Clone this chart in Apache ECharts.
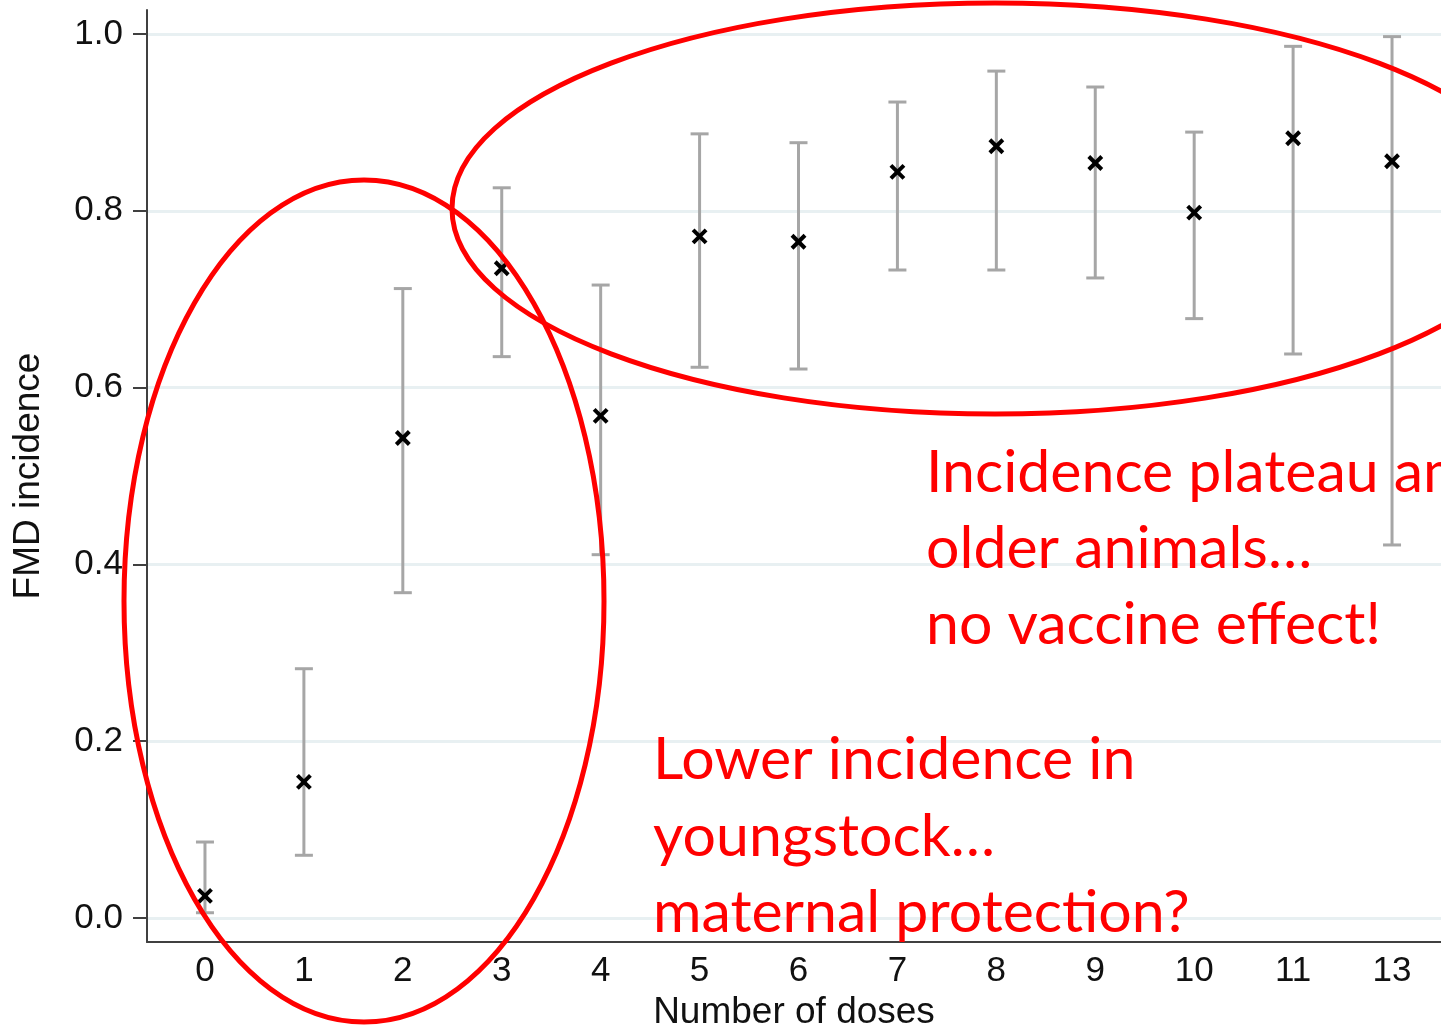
<!DOCTYPE html>
<html>
<head>
<meta charset="utf-8">
<script src="https://cdn.jsdelivr.net/npm/echarts@6/dist/echarts.min.js"></script>
<style>
html,body{margin:0;padding:0;background:#fff;}
#chart{width:1441px;height:1025px;}
</style>
</head>
<body>
<div id="chart"></div>
<script>
const categories = ['0','1','2','3','4','5','6','7','8','9','10','11','13'];
const estimates = [0.025,0.154,0.543,0.735,0.568,0.771,0.765,0.844,0.873,0.854,0.798,0.882,0.856];
const lowerCI  = [0.006,0.071,0.368,0.635,0.411,0.623,0.621,0.733,0.733,0.724,0.678,0.638,0.422];
const upperCI  = [0.086,0.282,0.712,0.826,0.716,0.887,0.877,0.923,0.958,0.940,0.889,0.986,0.997];
const yTicks = [0, 0.2, 0.4, 0.6, 0.8, 1.0];
const xTicks = categories.map((c, i) => i);

const barData = categories.map((c, i) => [i, lowerCI[i], upperCI[i]]);
const pointData = categories.map((c, i) => [i, estimates[i]]);

const chart = echarts.init(document.getElementById('chart'), null, {renderer: 'canvas'});
const axisFont = 'Liberation Sans, Arial, sans-serif';
const redFont = 'Lato, "Open Sans", sans-serif';
const redSize = 59;

const option = {
  backgroundColor: '#ffffff',
  animation: false,
  grid: {left: 147, right: 0, top: 10, bottom: 83, containLabel: false, outerBoundsMode: 'none'},
  xAxis: {
    type: 'value',
    min: -0.586,
    max: 12.495,
    z: 20,
    axisLine: {show: true, onZero: false, lineStyle: {color: '#404040', width: 2}},
    axisTick: {show: false},
    splitLine: {show: false},
    axisLabel: {
      customValues: xTicks,
      formatter: v => categories[Math.round(v)],
      color: '#111', fontFamily: axisFont, fontSize: 35, margin: 12
    },
    name: 'Number of doses',
    nameLocation: 'middle',
    nameGap: 46,
    nameTextStyle: {color: '#111', fontFamily: axisFont, fontSize: 37}
  },
  yAxis: {
    type: 'value',
    min: -0.0271,
    max: 1.0271,
    z: 20,
    axisLine: {show: true, onZero: false, lineStyle: {color: '#404040', width: 2}},
    axisTick: {show: true, customValues: yTicks, length: 14, lineStyle: {color: '#404040', width: 2}},
    splitLine: {show: false},
    axisLabel: {
      customValues: yTicks,
      formatter: v => v.toFixed(1),
      color: '#111', fontFamily: axisFont, fontSize: 35, margin: 24
    },
    name: 'FMD incidence',
    nameLocation: 'middle',
    nameRotate: 90,
    nameGap: 100,
    nameTextStyle: {color: '#111', fontFamily: axisFont, fontSize: 37}
  },
  series: [
    {
      type: 'custom',
      name: 'gridlines',
      data: [],
      silent: true,
      z: 1,
      markLine: {
        silent: true,
        z: 1,
        symbol: ['none', 'none'],
        label: {show: false},
        lineStyle: {color: '#e8f0f2', width: 3, type: 'solid'},
        data: yTicks.map(v => ({yAxis: v}))
      },
      renderItem: () => null
    },
    {
      type: 'custom',
      name: 'CI',
      data: barData,
      z: 10,
      renderItem: function (params, api) {
        const x = api.value(0);
        const p1 = api.coord([x, api.value(1)]);
        const p2 = api.coord([x, api.value(2)]);
        const hw = 9;
        const st = {stroke: '#a6a6a6', lineWidth: 3, fill: null};
        return {
          type: 'group',
          children: [
            {type: 'line', shape: {x1: p1[0], y1: p1[1], x2: p2[0], y2: p2[1]}, style: st},
            {type: 'line', shape: {x1: p1[0] - hw, y1: p1[1], x2: p1[0] + hw, y2: p1[1]}, style: st},
            {type: 'line', shape: {x1: p2[0] - hw, y1: p2[1], x2: p2[0] + hw, y2: p2[1]}, style: st}
          ]
        };
      }
    },
    {
      type: 'custom',
      name: 'estimate',
      data: pointData,
      z: 12,
      renderItem: function (params, api) {
        const p = api.coord([api.value(0), api.value(1)]);
        const s = 6.5;
        const st = {stroke: '#000', lineWidth: 4, fill: null};
        return {
          type: 'group',
          children: [
            {type: 'line', shape: {x1: p[0] - s, y1: p[1] - s, x2: p[0] + s, y2: p[1] + s}, style: st},
            {type: 'line', shape: {x1: p[0] - s, y1: p[1] + s, x2: p[0] + s, y2: p[1] - s}, style: st}
          ]
        };
      }
    }
  ],
  graphic: [
    {type: 'ellipse', z: 100, silent: true, shape: {cx: 364, cy: 601, rx: 240, ry: 421},
      style: {fill: null, stroke: '#ff0000', lineWidth: 5}},
    {type: 'ellipse', z: 100, silent: true, shape: {cx: 995, cy: 208.5, rx: 543, ry: 205.5},
      style: {fill: null, stroke: '#ff0000', lineWidth: 5}},
    {type: 'text', z: 101, left: 926, top: 443, style: {text: 'Incidence plateau among', fill: '#ff0000', font: redSize + 'px ' + redFont}},
    {type: 'text', z: 101, left: 926, top: 519, style: {text: 'older animals…', fill: '#ff0000', font: redSize + 'px ' + redFont}},
    {type: 'text', z: 101, left: 926, top: 595, style: {text: 'no vaccine effect!', fill: '#ff0000', font: redSize + 'px ' + redFont}},
    {type: 'text', z: 101, left: 653, top: 730, style: {text: 'Lower incidence in', fill: '#ff0000', font: redSize + 'px ' + redFont}},
    {type: 'text', z: 101, left: 653, top: 807, style: {text: 'youngstock…', fill: '#ff0000', font: redSize + 'px ' + redFont}},
    {type: 'text', z: 101, left: 653, top: 883, style: {text: 'maternal protection?', fill: '#ff0000', font: redSize + 'px ' + redFont}}
  ]
};
chart.setOption(option);
</script>
</body>
</html>
